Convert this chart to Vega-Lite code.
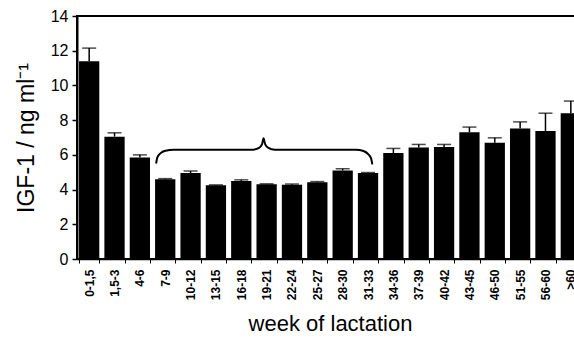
{
  "$schema": "https://vega.github.io/schema/vega-lite/v6.json",
  "width": 506,
  "height": 243,
  "autosize": {"type": "none"},
  "padding": {"left": 77, "top": 16, "right": 0, "bottom": 82},
  "background": "white",
  "config": {
    "font": "Liberation Sans",
    "view": {"stroke": "black", "strokeWidth": 2},
    "axisY": {"labelOverlap": false}
  },
  "datasets": {
    "bars": [
      {"week": "0-1,5", "igf": 11.4, "upper": 12.15},
      {"week": "1,5-3", "igf": 7.05, "upper": 7.27},
      {"week": "4-6", "igf": 5.85, "upper": 6.0},
      {"week": "7-9", "igf": 4.6, "upper": 4.63},
      {"week": "10-12", "igf": 4.95, "upper": 5.07},
      {"week": "13-15", "igf": 4.25, "upper": 4.27},
      {"week": "16-18", "igf": 4.5, "upper": 4.56},
      {"week": "19-21", "igf": 4.3, "upper": 4.33},
      {"week": "22-24", "igf": 4.28, "upper": 4.32},
      {"week": "25-27", "igf": 4.42, "upper": 4.46},
      {"week": "28-30", "igf": 5.1, "upper": 5.2},
      {"week": "31-33", "igf": 4.95, "upper": 4.98},
      {"week": "34-36", "igf": 6.1, "upper": 6.37},
      {"week": "37-39", "igf": 6.42, "upper": 6.6},
      {"week": "40-42", "igf": 6.45, "upper": 6.6},
      {"week": "43-45", "igf": 7.3, "upper": 7.6},
      {"week": "46-50", "igf": 6.7, "upper": 6.98},
      {"week": "51-55", "igf": 7.52, "upper": 7.9},
      {"week": "56-60", "igf": 7.37, "upper": 8.4},
      {"week": ">60", "igf": 8.4, "upper": 9.1}
    ],
    "brace": [
      {"pos": 3.12, "v": 5.5},
      {"pos": 3.17, "v": 5.85},
      {"pos": 3.3, "v": 6.1},
      {"pos": 3.5, "v": 6.24},
      {"pos": 3.8, "v": 6.3},
      {"pos": 6.95, "v": 6.3},
      {"pos": 7.18, "v": 6.4},
      {"pos": 7.3, "v": 6.62},
      {"pos": 7.36, "v": 6.95},
      {"pos": 7.42, "v": 6.62},
      {"pos": 7.55, "v": 6.4},
      {"pos": 7.8, "v": 6.3},
      {"pos": 11.0, "v": 6.3},
      {"pos": 11.3, "v": 6.22},
      {"pos": 11.48, "v": 6.05},
      {"pos": 11.6, "v": 5.8},
      {"pos": 11.65, "v": 5.45}
    ]
  },
  "encoding": {
    "y": {
      "type": "quantitative",
      "scale": {"domain": [0, 14], "nice": false},
      "axis": {
        "title": "IGF-1 / ng ml⁻¹",
        "titleFontSize": 23,
        "titleFontWeight": "normal",
        "titleColor": "black",
        "titlePadding": 12,
        "values": [0, 2, 4, 6, 8, 10, 12, 14],
        "labelOverlap": false,
        "labelFontSize": 16,
        "labelColor": "black",
        "labelPadding": 4,
        "grid": false,
        "domainColor": "black",
        "domainWidth": 2,
        "tickColor": "black",
        "tickSize": 5,
        "tickWidth": 1.5
      }
    }
  },
  "layer": [
    {
      "data": {"name": "bars"},
      "encoding": {
        "x": {
          "field": "week",
          "type": "nominal",
          "sort": null,
          "scale": {"paddingInner": 0.2, "paddingOuter": 0.08},
          "axis": {
            "title": "week of lactation",
            "titleFontSize": 22,
            "titleFontWeight": "normal",
            "titleColor": "black",
            "titlePadding": 14,
            "labelAngle": -90,
            "labelFontSize": 12,
            "labelFontWeight": "bold",
            "labelColor": "black",
            "labelPadding": 6,
            "domainColor": "black",
            "domainWidth": 1.5,
            "tickColor": "black",
            "tickBand": "extent",
            "tickSize": 4
          }
        }
      },
      "layer": [
        {
          "mark": {"type": "rule", "color": "black", "strokeWidth": 1.5},
          "encoding": {"y": {"field": "igf"}, "y2": {"field": "upper"}}
        },
        {
          "mark": {"type": "tick", "color": "black", "thickness": 1.5, "size": 14},
          "encoding": {"y": {"field": "upper"}}
        },
        {
          "mark": {"type": "bar", "color": "black"},
          "encoding": {"y": {"field": "igf"}}
        }
      ]
    },
    {
      "data": {"name": "brace"},
      "mark": {"type": "line", "color": "black", "strokeWidth": 2, "interpolate": "monotone"},
      "encoding": {
        "x": {"field": "pos", "type": "quantitative", "scale": {"domain": [0, 19.96], "nice": false, "zero": false}, "axis": null},
        "y": {"field": "v"}
      }
    }
  ],
  "resolve": {"scale": {"x": "independent"}}
}
